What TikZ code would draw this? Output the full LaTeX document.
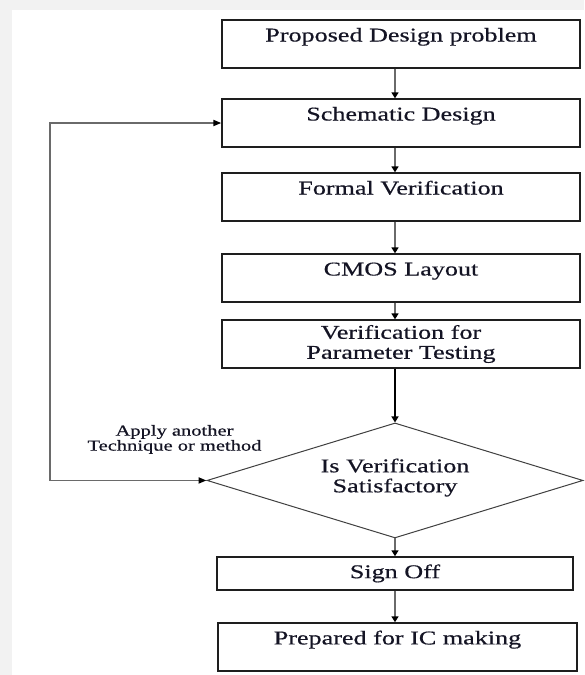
\documentclass[tikz,border=0pt]{standalone}
\usepackage{fontspec}
\setmainfont[FakeStretch=1.34, FakeBold=0.5]{Liberation Serif}
\usetikzlibrary{arrows.meta, positioning, shapes.geometric}
\definecolor{flowtext}{HTML}{141424}
\definecolor{flowline}{HTML}{1E1E1E}
\definecolor{flowgrey}{HTML}{6A6A6A}
\definecolor{pagegrey}{HTML}{F2F2F2}
\tikzset{
  stepbox/.style  = {draw=flowline, line width=1.3pt, text=flowtext,
                     font=\fontsize{19.5}{20}\selectfont, align=center,
                     minimum width=358pt, minimum height=48pt, inner sep=0pt},
  topbox/.style   = {stepbox, text height=14pt, text depth=19pt},
  testbox/.style  = {diamond, aspect=3.27, draw=flowline!85, line width=1pt,
                     text=flowtext, font=\fontsize{19.5}{20}\selectfont,
                     align=center, minimum width=376pt, minimum height=115pt,
                     inner sep=0pt},
  flow/.style     = {draw=flowgrey, line width=2pt,
                     -{Triangle[length=6pt, width=7pt, color=black]}},
  flowdark/.style = {flow, draw=black, line width=1.3pt},
  backflow/.style = {draw=flowgrey, line width=1.8pt,
                     {Triangle[length=8pt, width=6pt, color=black]}-{Triangle[length=8pt, width=6pt, color=black]}},
  note/.style     = {font=\fontsize{15.3}{15}\selectfont, align=center,
                     text=flowtext, inner sep=0pt},
}
\begin{document}
\begin{tikzpicture}[x=1pt, y=1pt]
  \fill[pagegrey] (0,0) rectangle (584,-675);
  \fill[white] (12,-10) rectangle (584,-675);
  \useasboundingbox (0,0) rectangle (584,-675);

  \node[topbox] (prob) at (401,-44) {Proposed Design problem};
  \node[topbox, below=29.7pt of prob] (schem) {Schematic Design};
  \node[topbox, below=24.7pt of schem] (formal) {Formal Verification};
  \node[topbox, below=31.7pt of formal] (layout) {CMOS Layout};
  \node[stepbox, below=16.7pt of layout] (param) {Verification for\\Parameter Testing};
  \node[testbox, below=53.8pt of param, xshift=-6pt] (check)
       {Is Verification\\Satisfactory\\[-10pt]};
  \node[stepbox, below=17.8pt of check, minimum width=356pt, minimum height=33pt] (sign) {Sign Off};
  \node[topbox, below=31.7pt of sign, xshift=2.5pt, minimum width=359pt] (ic) {Prepared for IC making};

  \draw[flow] (prob.south -| check.north) -- (schem.north -| check.north);
  \draw[flow] (schem.south -| check.north) -- (formal.north -| check.north);
  \draw[flow] (formal.south -| check.north) -- (layout.north -| check.north);
  \draw[flow] (layout.south -| check.north) -- (param.north -| check.north);
  \draw[flowdark] (param.south -| check.north) -- (check.north);
  \draw[flow] (check.south) -- (sign.north);
  \draw[flow] (sign.south) -- (ic.north -| sign.south);

  % way back to the schematic
  \coordinate (back) at ([xshift=-171pt]schem.west);
  \draw[backflow] (check.west) -| (back) -- (schem.west);
  \node[note] (retry) at ([xshift=-32pt, yshift=41pt]check.west)
       {Apply another\\Technique or method};
\end{tikzpicture}
\end{document}
